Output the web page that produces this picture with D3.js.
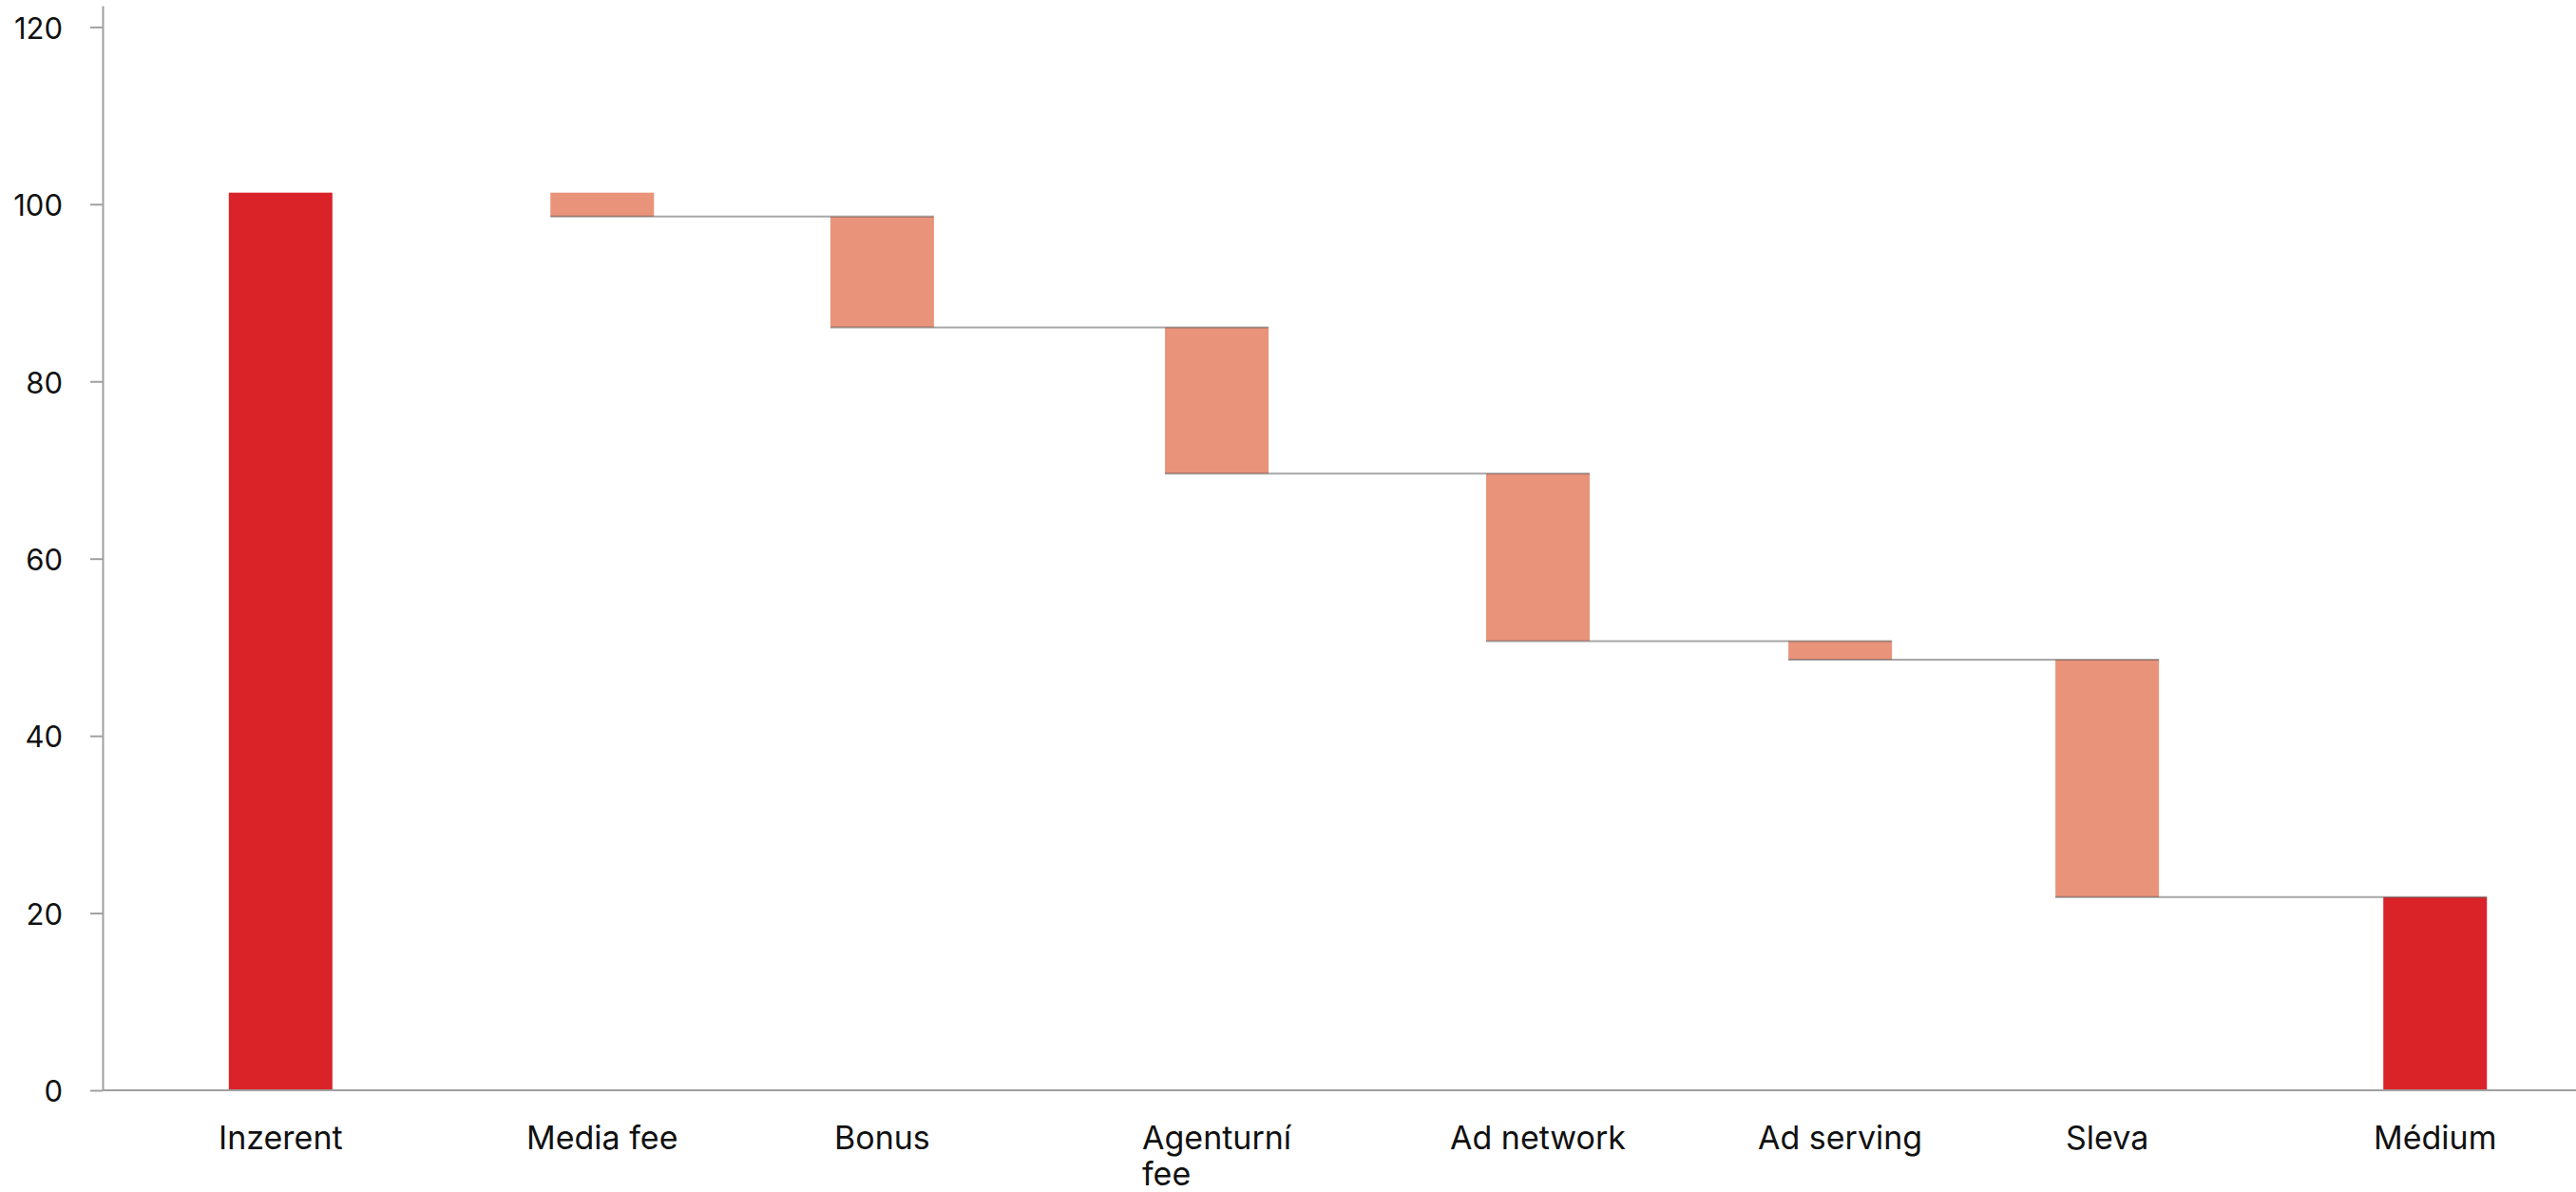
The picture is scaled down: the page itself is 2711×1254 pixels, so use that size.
<!DOCTYPE html>
<meta charset="utf-8">
<style>
body { margin: 0; background: #fff; }
svg { display: block; }
text { font-family: Inter, "Noto Sans", sans-serif; fill: #111; }
.axis path, .axis line { stroke: #a0a0a0; stroke-width: 2px; }
.axis text { font-size: 31px; font-weight: 400; }
.label { font-size: 34px; font-weight: 400; }
.connector { stroke: #505050; stroke-opacity: 0.5; stroke-width: 2px; }
</style>
<body>
<script src="https://d3js.org/d3.v7.min.js"></script>
<script>

var categories = ["Inzerent", "Media fee", "Bonus", "Agenturní fee", "Ad network", "Ad serving", "Sleva", "Médium"];
var values = [101.3, -2.7, -12.5, -16.5, -18.9, -2.1, -26.8, 21.8];
var isTotal = [true, false, false, false, false, false, false, true];
var yTicks = [0, 20, 40, 60, 80, 100, 120];

var width = 2711,
    height = 1254,
    margin = {top: 6, left: 108, bottom: 107},
    barWidth = 109,
    labelMax = 195;

var totalColor = "#da2229",
    stepColor = "#e9937a";

// running start/end of every bar
var running = 0;
var bars = categories.map(function(c, i) {
  var start, end;
  if (isTotal[i]) { start = 0; end = values[i]; }
  else { start = running; end = running + values[i]; }
  running = end;
  return {name: c, start: start, end: end, total: isTotal[i]};
});

var y = d3.scaleLinear()
    .domain([0, 122.4])
    .range([height - margin.bottom, margin.top]);

// labels sit left-aligned on evenly spaced slots
var x = d3.scalePoint()
    .domain(categories)
    .range([230, 2498]);

var svg = d3.select("body").append("svg")
    .attr("width", width)
    .attr("height", height);

// x labels (wrapped when too wide)
var labels = svg.append("g").selectAll("text")
    .data(bars)
  .enter().append("text")
    .attr("class", "label")
    .attr("x", function(d) { return x(d.name); })
    .attr("y", y(0) + 62)
    .each(function(d) {
      var t = d3.select(this),
          words = d.name.split(" "),
          line = [],
          tspan = t.append("tspan").attr("x", x(d.name)).attr("dy", 0);
      words.forEach(function(w) {
        line.push(w);
        tspan.text(line.join(" "));
        if (tspan.node().getComputedTextLength() > labelMax && line.length > 1) {
          line.pop();
          tspan.text(line.join(" "));
          line = [w];
          tspan = t.append("tspan").attr("x", x(d.name)).attr("dy", "1.12em").text(w);
        }
      });
      var w = 0;
      t.selectAll("tspan").each(function() { w = Math.max(w, this.getComputedTextLength()); });
      d.cx = x(d.name) + w / 2;
    });

// bars centred under their labels
svg.append("g").selectAll("rect")
    .data(bars)
  .enter().append("rect")
    .attr("x", function(d) { return d.cx - barWidth / 2; })
    .attr("width", barWidth)
    .attr("y", function(d) { return y(Math.max(d.start, d.end)); })
    .attr("height", function(d) { return Math.abs(y(d.start) - y(d.end)); })
    .attr("fill", function(d) { return d.total ? totalColor : stepColor; });

// connector at the bottom of each step, running to the next bar's right edge
var steps = bars.filter(function(d, i) { return !d.total && i < bars.length - 1; });
svg.append("g").selectAll("line")
    .data(steps)
  .enter().append("line")
    .attr("class", "connector")
    .attr("x1", function(d) { return d.cx - barWidth / 2; })
    .attr("x2", function(d) {
      var next = bars[bars.indexOf(d) + 1];
      return next.cx + barWidth / 2;
    })
    .attr("y1", function(d) { return y(d.end); })
    .attr("y2", function(d) { return y(d.end); });

// axes
svg.append("g")
    .attr("class", "axis")
    .attr("transform", "translate(" + margin.left + ",0)")
    .call(d3.axisLeft(y).tickValues(yTicks).tickSize(13).tickSizeOuter(0).tickPadding(29));

svg.select(".axis").selectAll("text").attr("dy", "0.38em");

svg.append("line")
    .attr("class", "axis")
    .attr("x1", margin.left)
    .attr("x2", width)
    .attr("y1", y(0))
    .attr("y2", y(0))
    .style("stroke", "#a0a0a0")
    .style("stroke-width", "2px");

</script>
